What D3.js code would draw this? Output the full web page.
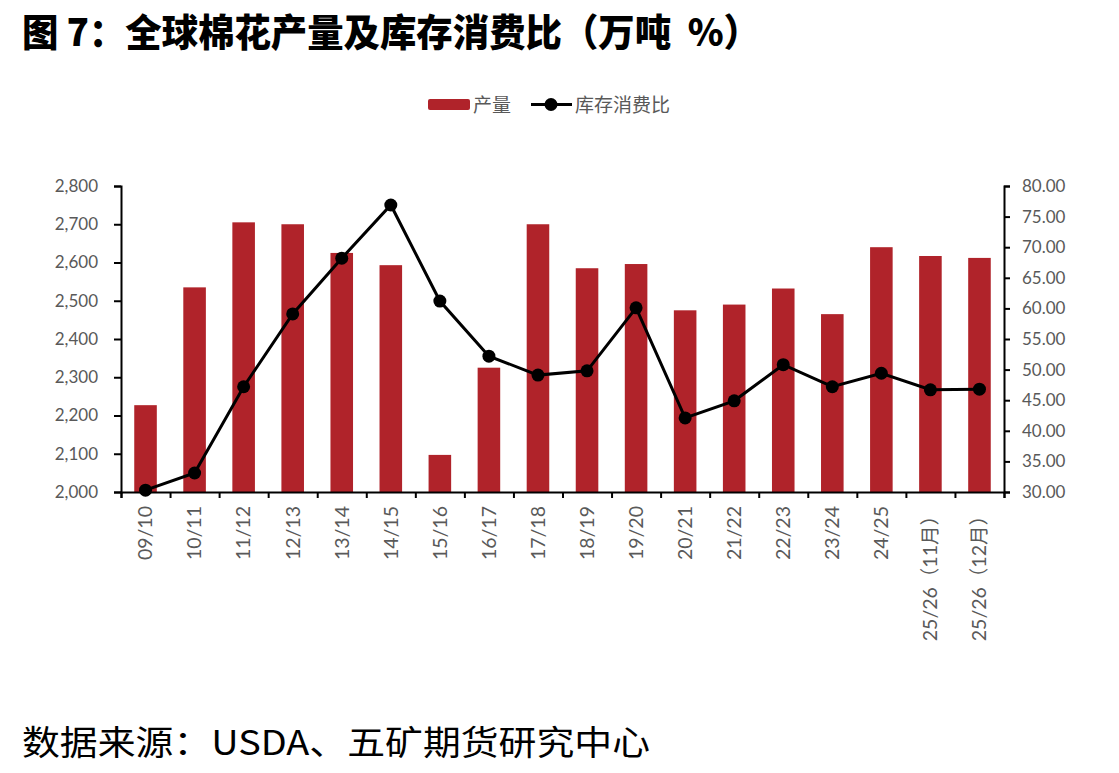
<!DOCTYPE html>
<html>
<head>
<meta charset="utf-8">
<script src="https://cdn.jsdelivr.net/npm/d3@7"></script>
<style>
  body { margin: 0; background: #fff; }
  svg text { text-spacing-trim: space-all; }
</style>
</head>
<body>
<div id="chart"></div>
<script>
// Data
const seasons = ["09/10", "10/11", "11/12", "12/13", "13/14", "14/15", "15/16", "16/17", "17/18",
  "18/19", "19/20", "20/21", "21/22", "22/23", "23/24", "24/25", "25/26（11月）", "25/26（12月）"];
const production = [2227, 2535, 2705, 2700, 2625, 2593, 2097, 2325, 2700,
  2585, 2596, 2475, 2490, 2532, 2465, 2640, 2617, 2612];
const stockRatio = [30.3, 33.1, 47.2, 59.1, 68.2, 76.9, 61.2, 52.2, 49.1,
  49.8, 60.1, 42.1, 44.9, 50.8, 47.2, 49.4, 46.7, 46.8];
const leftTicks = [2000, 2100, 2200, 2300, 2400, 2500, 2600, 2700, 2800];
const rightTicks = [30, 35, 40, 45, 50, 55, 60, 65, 70, 75, 80];

const width = 1119, height = 773;
const margin = { top: 186, right: 115, bottom: 281, left: 121 };
const labelFont = "Lato, 'Noto Sans CJK SC', sans-serif";
const gray = "#595959";
const barColor = "#b0232a";

const svg = d3.select("#chart").append("svg")
  .attr("width", width)
  .attr("height", height);

// Title
svg.append("text")
  .attr("x", 22)
  .attr("y", 46)
  .attr("font-family", "'Noto Sans CJK SC', sans-serif")
  .attr("font-weight", 900)
  .attr("font-size", 38)
  .attr("textLength", 738)
  .attr("lengthAdjust", "spacingAndGlyphs")
  .style("white-space", "pre")
  .text("图 7：全球棉花产量及库存消费比（万吨  %）");

// Scales
const x = d3.scaleBand()
  .domain(seasons)
  .range([margin.left, width - margin.right]);

const xEdge = d3.scaleLinear()
  .domain([0, seasons.length])
  .range([margin.left, width - margin.right]);

const yLeft = d3.scaleLinear()
  .domain([2000, 2800])
  .range([height - margin.bottom, margin.top]);

const yRight = d3.scaleLinear()
  .domain([30, 80])
  .range([height - margin.bottom, margin.top]);

// Bars
svg.append("g")
  .selectAll("rect")
  .data(production)
  .join("rect")
  .attr("x", (d, i) => x(seasons[i]) + x.bandwidth() * 0.27)
  .attr("width", x.bandwidth() * 0.46)
  .attr("y", d => yLeft(d))
  .attr("height", d => yLeft(2000) - yLeft(d))
  .attr("fill", barColor);

// Left axis
const gLeft = svg.append("g")
  .attr("transform", `translate(${margin.left},0)`)
  .call(d3.axisLeft(yLeft).tickValues(leftTicks).tickSize(7).tickPadding(16).tickFormat(d3.format(",")));

// Right axis
const gRight = svg.append("g")
  .attr("transform", `translate(${width - margin.right},0)`)
  .call(d3.axisRight(yRight).tickValues(rightTicks).tickSize(6).tickPadding(12).tickFormat(d3.format(".2f")));

// Bottom axis: ticks at category edges
const gBottom = svg.append("g")
  .attr("transform", `translate(0,${height - margin.bottom})`)
  .call(d3.axisBottom(xEdge).tickValues(d3.range(seasons.length + 1)).tickSize(6).tickFormat(""));

// Bottom labels
const gLabels = svg.append("g")
  .attr("transform", `translate(0,${height - margin.bottom})`)
  .call(d3.axisBottom(x).tickSize(0).tickPadding(0));
gLabels.select(".domain").remove();

[gLeft, gRight, gBottom].forEach(g => {
  g.select(".domain").attr("stroke", "#000").attr("stroke-width", 2);
  g.selectAll(".tick line").attr("stroke", "#000").attr("stroke-width", 2);
});
[gLeft, gRight].forEach(g => {
  g.selectAll("text")
    .attr("fill", gray)
    .attr("font-size", 17)
    .attr("font-family", labelFont);
});
gLabels.selectAll("text")
  .attr("transform", "rotate(-90)")
  .attr("x", -14)
  .attr("y", 0)
  .attr("dy", "0.35em")
  .style("text-anchor", "end")
  .attr("fill", gray)
  .attr("font-size", 19.5)
  .attr("font-family", labelFont);

// Ratio line
const line = d3.line()
  .x((d, i) => x(seasons[i]) + x.bandwidth() / 2)
  .y(d => yRight(d));

svg.append("path")
  .datum(stockRatio)
  .attr("fill", "none")
  .attr("stroke", "#000")
  .attr("stroke-width", 3)
  .attr("d", line);

svg.append("g")
  .selectAll("circle")
  .data(stockRatio)
  .join("circle")
  .attr("cx", (d, i) => x(seasons[i]) + x.bandwidth() / 2)
  .attr("cy", d => yRight(d))
  .attr("r", 6.5)
  .attr("fill", "#000");

// Legend
const legend = svg.append("g").attr("font-family", labelFont).attr("font-size", 19).attr("fill", gray);
legend.append("rect")
  .attr("x", 428).attr("y", 99).attr("width", 42).attr("height", 11).attr("rx", 2)
  .attr("fill", barColor);
legend.append("text").attr("x", 473).attr("y", 105).attr("dy", "0.35em").text("产量");
legend.append("line")
  .attr("x1", 531).attr("x2", 572).attr("y1", 104.5).attr("y2", 104.5)
  .attr("stroke", "#000").attr("stroke-width", 3);
legend.append("circle").attr("cx", 551).attr("cy", 104.5).attr("r", 6.5).attr("fill", "#000");
legend.append("text").attr("x", 575).attr("y", 105).attr("dy", "0.35em").text("库存消费比");

// Source
svg.append("text")
  .attr("x", 22)
  .attr("y", 755)
  .attr("font-family", "'Noto Sans CJK SC', sans-serif")
  .attr("font-size", 34)
  .attr("textLength", 628)
  .attr("lengthAdjust", "spacingAndGlyphs")
  .text("数据来源：USDA、五矿期货研究中心");
</script>
</body>
</html>
